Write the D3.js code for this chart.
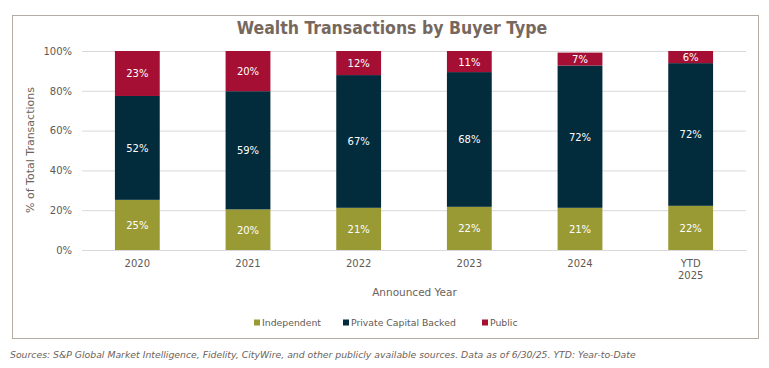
<!DOCTYPE html>
<html><head><meta charset="utf-8">
<script src="https://cdn.jsdelivr.net/npm/d3@7"></script>
<style>
body{margin:0;background:#fff;}
svg{display:block;}
</style></head>
<body>
<svg id="c" width="769" height="368"></svg>
<script>
const categories = ["2020","2021","2022","2023","2024","YTD 2025"];
const seriesNames = ["Independent","Private Capital Backed","Public"];
const independent = [25.2,20.4,21.2,21.7,21.2,22.2];
const privateCapital = [52.2,59.4,66.7,67.7,71.5,71.7];
const publicVals = [22.6,20.2,12.1,10.6,6.5,6.1];
const yTicks = [0,20,40,60,80,100];
const colors = ["#9a9a35","#022b3c","#a50f33"];

const svg = d3.select("#c");
const textCol = "#5f5a55";
// frame
svg.append("rect").attr("x",12.5).attr("y",15.5).attr("width",746).attr("height",323)
  .attr("fill","none").attr("stroke","#b5aca3").attr("stroke-width",1);
svg.append("text").attr("x",392).attr("y",34).attr("text-anchor","middle")
  .attr("font-family","'DejaVu Sans Condensed','DejaVu Sans'").attr("font-weight","bold")
  .attr("font-size",17.5).attr("fill","#76685e").text("Wealth Transactions by Buyer Type");

const x = d3.scaleBand().domain(categories).range([82,746]).paddingInner(0.595).paddingOuter(0.2975);
const y = d3.scaleLinear().domain([0,100]).range([250,51]);

// gridlines
svg.append("g").selectAll("line").data(yTicks).join("line")
  .attr("x1",82).attr("x2",746).attr("y1",d=>y(d)+0.5).attr("y2",d=>y(d)+0.5)
  .attr("stroke","#d9d9d9").attr("stroke-width",1);

// y axis
const ya = svg.append("g").attr("transform","translate(82,0)")
  .call(d3.axisLeft(y).tickValues(yTicks).tickFormat(d=>d+"%").tickSize(0).tickPadding(10));
ya.select(".domain").remove();
ya.selectAll("text").attr("font-family","'DejaVu Sans',Verdana").attr("font-size",10).attr("fill",textCol);

// x axis
const xa = svg.append("g").attr("transform","translate(0,250)")
  .call(d3.axisBottom(x).tickSize(0).tickPadding(10));
xa.select(".domain").attr("stroke","#d9d9d9");
xa.selectAll("text").attr("font-family","'DejaVu Sans',Verdana").attr("font-size",10).attr("fill",textCol)
  .each(function(d){
    const parts = d.split(" ");
    if(parts.length>1){
      const t = d3.select(this); t.text("");
      parts.forEach((p,i)=>t.append("tspan").attr("x",0).attr("dy",i===0?"0.71em":"1.15em").text(p));
    }
  });

// stacked data
const rows = categories.map((c,i)=>({cat:c, s0:independent[i], s1:privateCapital[i], s2:publicVals[i]}));
const stack = d3.stack().keys(["s0","s1","s2"])(rows);
const bw = x.bandwidth();
stack.forEach((layer,li)=>{
  const g = svg.append("g");
  g.selectAll("rect").data(layer).join("rect")
    .attr("x",d=>x(d.data.cat)).attr("width",bw)
    .attr("y",d=>y(Math.min(d[1],100))).attr("height",d=>y(d[0])-y(Math.min(d[1],100)))
    .attr("fill",colors[li]);
  g.selectAll("text").data(layer).join("text")
    .attr("x",d=>x(d.data.cat)+bw/2).attr("y",d=>(y(d[0])+y(Math.min(d[1],100)))/2+4)
    .attr("text-anchor","middle").attr("font-family","'DejaVu Sans',Verdana").attr("font-size",10)
    .attr("fill","#fff").text(d=>Math.round(d[1]-d[0])+"%");
});

// axis titles
svg.append("text").attr("transform","translate(34,150) rotate(-90)").attr("text-anchor","middle")
  .attr("font-family","'DejaVu Sans',Verdana").attr("font-size",11).attr("fill","#6b625b").text("% of Total Transactions");
svg.append("text").attr("x",414.5).attr("y",296).attr("text-anchor","middle")
  .attr("font-family","'DejaVu Sans',Verdana").attr("font-size",10.5).attr("fill","#6b625b").text("Announced Year");

// legend
const legX = [254,343,482];
const lg = svg.append("g");
seriesNames.forEach((n,i)=>{
  lg.append("rect").attr("x",legX[i]).attr("y",319.5).attr("width",6).attr("height",6).attr("fill",colors[i]);
  lg.append("text").attr("x",legX[i]+8).attr("y",326).attr("font-family","'DejaVu Sans',Verdana")
    .attr("font-size",9.3).attr("fill",textCol).text(n);
});

svg.append("text").attr("x",10).attr("y",358).attr("font-family","'DejaVu Sans',Verdana")
  .attr("font-style","italic").attr("font-size",9.3).attr("fill","#6b625b")
  .text("Sources: S&P Global Market Intelligence, Fidelity, CityWire, and other publicly available sources. Data as of 6/30/25. YTD: Year-to-Date");
</script>
</body></html>
